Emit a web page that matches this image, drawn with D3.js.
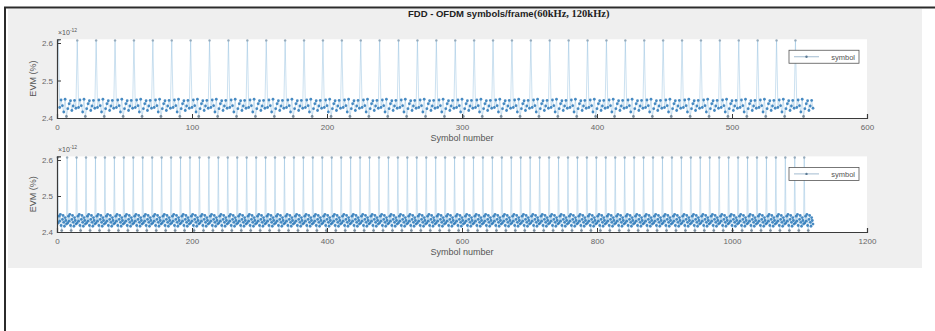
<!DOCTYPE html>
<html><head><meta charset="utf-8">
<script src="https://cdn.jsdelivr.net/npm/d3@7/dist/d3.min.js"></script>
<style>
html,body{margin:0;padding:0;background:#fff;}
svg{display:block;}
text{font-family:"Liberation Sans",Arial,sans-serif;}
</style></head>
<body>
<script>
// ---- data (EVM values in units of 1e-12 %) ----
const titleMain = "FDD - OFDM symbols/frame";
const titleTail = "(60kHz, 120kHz)";
const yLabel = "EVM (%)";
const xLabel = "Symbol number";
const legendLabel = "symbol";
const expLabel = "-12";
// one 14-symbol slot (first symbol of each slot is the high one)
const topSlotPattern    = [2.607, 2.428, 2.448, 2.433, 2.416, 2.450, 2.404, 2.425, 2.438, 2.446, 2.420, 2.432, 2.447, 2.426];
const bottomSlotPattern = [2.607, 2.425, 2.444, 2.430, 2.449, 2.418, 2.404, 2.435, 2.446, 2.427, 2.416, 2.440, 2.432, 2.422];
const topSlots = 40;      // 560 symbols (60 kHz)
const bottomSlots = 80;   // 1120 symbols (120 kHz)
const xTicksTop = [0, 100, 200, 300, 400, 500, 600];
const xTicksBottom = [0, 200, 400, 600, 800, 1000, 1200];
const yTicks = [2.4, 2.5, 2.6];
const xDomainTop = [0, 600];
const xDomainBottom = [0, 1200];
const yDomain = [2.4, 2.61];

function buildSeries(pattern, slots) {
  const out = [];
  for (let s = 0; s < slots; s++) pattern.forEach((v, i) => out.push({x: s * pattern.length + i + 1, y: v}));
  return out;
}
const topSeries = buildSeries(topSlotPattern, topSlots);
const bottomSeries = buildSeries(bottomSlotPattern, bottomSlots);

// ---- drawing ----
const W = 935, H = 331;
const svg = d3.select("body").append("svg").attr("width", W).attr("height", H);

// page frame
svg.append("rect").attr("x", 0).attr("y", 0).attr("width", W).attr("height", H).attr("fill", "#fff");
svg.append("rect").attr("x", 8).attr("y", 9).attr("width", 914).attr("height", 259).attr("fill", "#efefef");
svg.append("line").attr("x1", 4).attr("x2", W).attr("y1", 7.5).attr("y2", 7.5).attr("stroke", "#2b2b2b").attr("stroke-width", 2);
svg.append("line").attr("x1", 5).attr("x2", 5).attr("y1", 7).attr("y2", H).attr("stroke", "#2b2b2b").attr("stroke-width", 2);

// title
const t = svg.append("text").attr("x", 408).attr("y", 17).attr("font-size", 9.5).attr("font-weight", "bold").attr("fill", "#222");
t.append("tspan").text(titleMain);
t.append("tspan").attr("font-family", "'Liberation Serif','Times New Roman',serif").attr("font-size", 10.5).text(titleTail);

function panel(series, xDomain, xTicks, box) {
  const x = d3.scaleLinear().domain(xDomain).range([box.left, box.right]);
  const y = d3.scaleLinear().domain(yDomain).range([box.bottom, box.top]);
  const g = svg.append("g");
  g.append("rect").attr("x", box.left).attr("y", box.top).attr("width", box.right - box.left)
    .attr("height", box.bottom - box.top).attr("fill", "#fff");

  const line = d3.line().x(d => x(d.x)).y(d => y(d.y));
  g.append("path").datum(series).attr("d", line).attr("fill", "none")
    .attr("stroke", "#7fb4da").attr("stroke-opacity", 0.5).attr("stroke-width", 0.8);
  g.selectAll("circle.pt").data(series).enter().append("circle").attr("class", "pt")
    .attr("cx", d => x(d.x)).attr("cy", d => y(d.y)).attr("r", d => d.y > 2.5 ? 1.2 : 1.4)
    .attr("fill", d => d.y > 2.5 ? "#8aa0b2" : (d.y < 2.41 ? "#6b7f90" : "#2a78b8"))
    .attr("fill-opacity", 0.85);

  const xa = g.append("g").attr("transform", `translate(0,${box.bottom})`)
    .call(d3.axisBottom(x).tickValues(xTicks).tickSize(-4).tickPadding(6).tickFormat(d3.format("d")));
  const ya = g.append("g").attr("transform", `translate(${box.left},0)`)
    .call(d3.axisLeft(y).tickValues(yTicks).tickSize(-4).tickPadding(4).tickFormat(d3.format(".1f")));
  [xa, ya].forEach(a => {
    a.select(".domain").attr("stroke", "#3a3a3a").attr("stroke-width", 1.2);
    a.selectAll(".tick line").attr("stroke", "#3a3a3a");
    a.selectAll(".tick text").attr("font-size", 8).attr("fill", "#666")
      .attr("font-family", "'Liberation Sans',Arial,sans-serif");
  });

  // exponent label
  const e = g.append("text").attr("x", box.left + 1).attr("y", box.top - 4).attr("font-size", 7).attr("fill", "#555");
  e.append("tspan").text("\u00d710");
  e.append("tspan").attr("dy", -3).attr("font-size", 5).text(expLabel);

  // y label
  g.append("text").attr("transform", `translate(36,${(box.top + box.bottom) / 2}) rotate(-90)`)
    .attr("text-anchor", "middle").attr("font-size", 9).attr("fill", "#555").text(yLabel);
  // x label
  g.append("text").attr("x", (box.left + box.right) / 2).attr("y", box.bottom + 23)
    .attr("text-anchor", "middle").attr("font-size", 9).attr("fill", "#555").text(xLabel);

  // legend
  const lg = g.append("g").attr("transform", `translate(${box.right - 78},${box.top + 11})`);
  lg.append("rect").attr("x", 0).attr("y", 0).attr("width", 70).attr("height", 13)
    .attr("fill", "#fff").attr("stroke", "#555").attr("stroke-width", 0.8);
  lg.append("line").attr("x1", 5).attr("x2", 30).attr("y1", 6.5).attr("y2", 6.5)
    .attr("stroke", "#8aaac4").attr("stroke-width", 0.8);
  lg.append("circle").attr("cx", 17.5).attr("cy", 6.5).attr("r", 1.2).attr("fill", "#5b7a94");
  lg.append("text").attr("x", 66).attr("y", 9.5).attr("text-anchor", "end").attr("font-size", 7.5)
    .attr("fill", "#555").text(legendLabel);
}

panel(topSeries, xDomainTop, xTicksTop, {left: 57, right: 867, top: 39.25, bottom: 118});
panel(bottomSeries, xDomainBottom, xTicksBottom, {left: 57, right: 867, top: 156.4, bottom: 232});
</script>
</body></html>
